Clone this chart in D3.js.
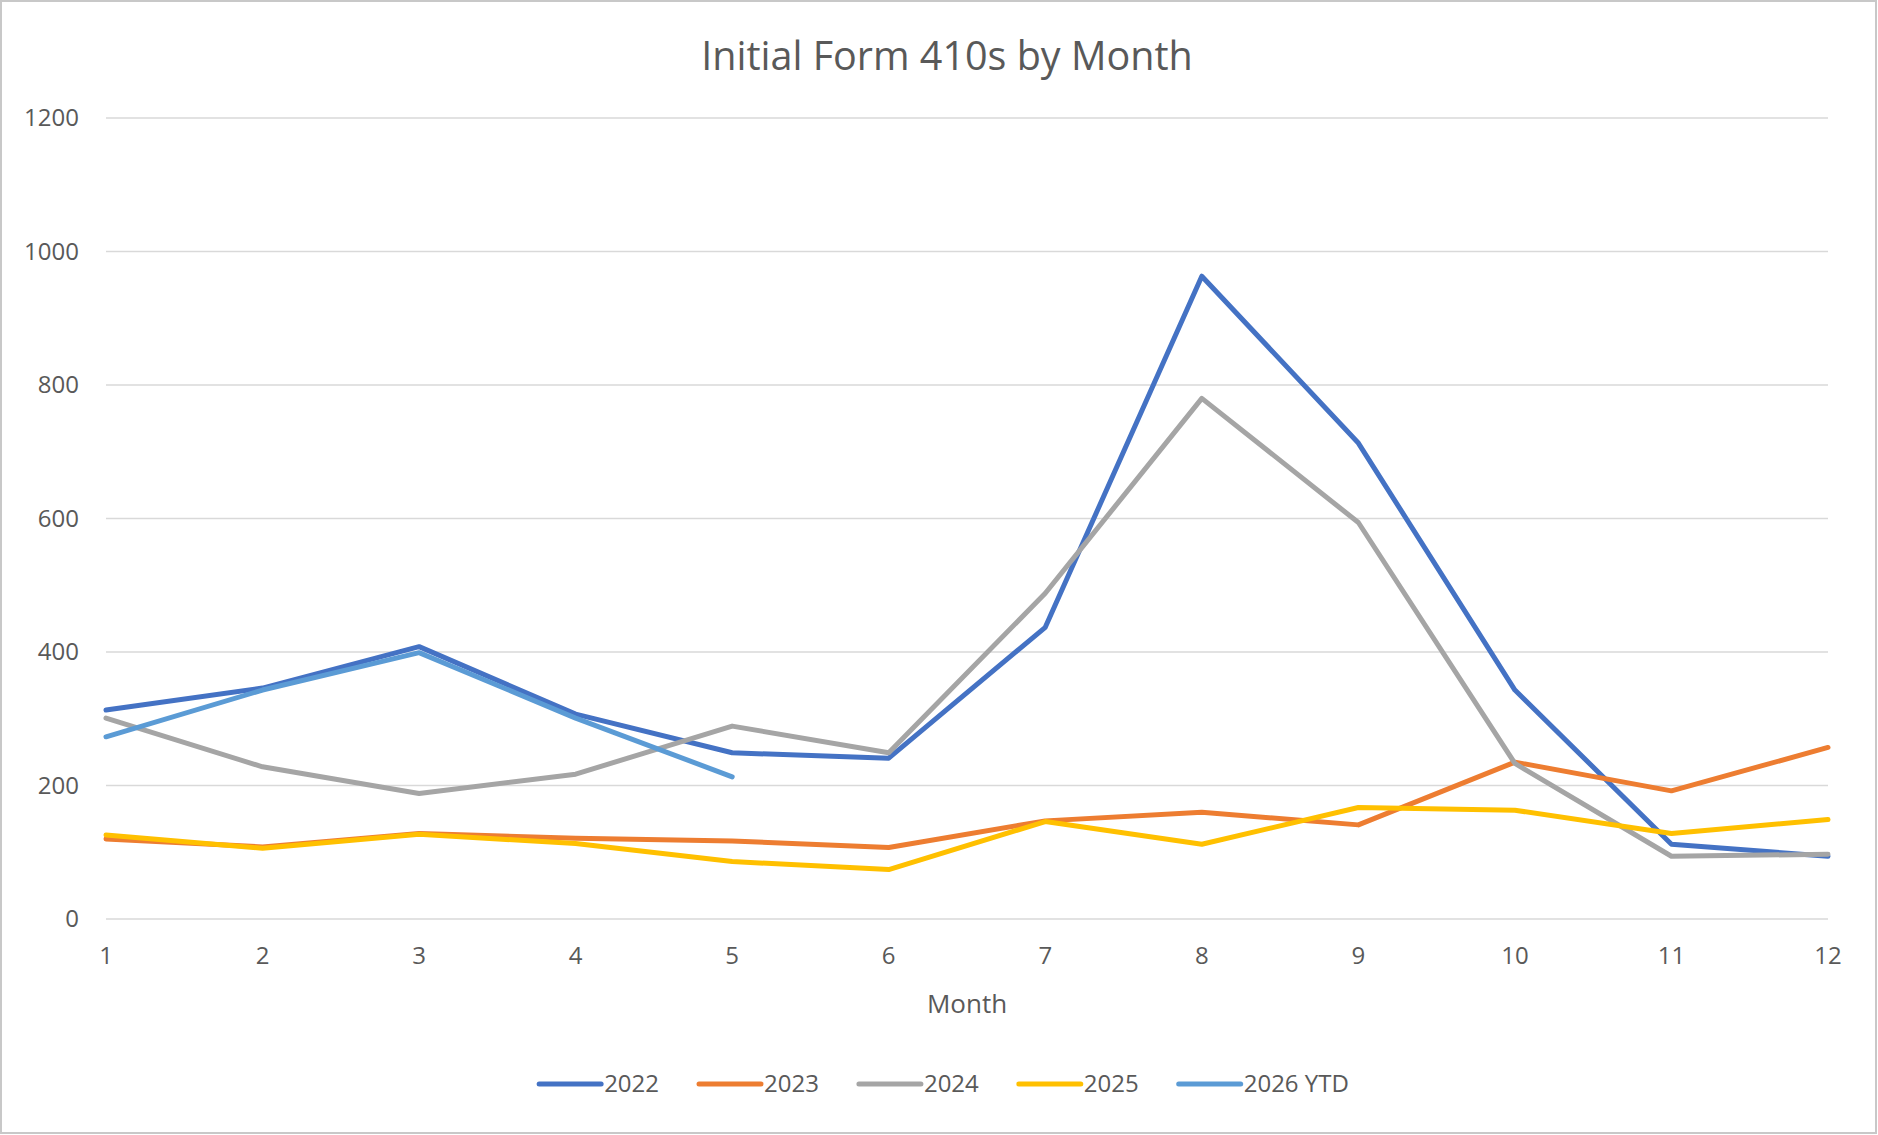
<!DOCTYPE html>
<html>
<head>
<meta charset="utf-8">
<script src="https://cdn.jsdelivr.net/npm/d3@7"></script>
<style>
  body { margin: 0; background: #fff; }
  svg text { font-family: "Open Sans", sans-serif; fill: #595959; }
</style>
</head>
<body>
<script>
var w = 1878;
var h = 1135;

// data
var months = [1, 2, 3, 4, 5, 6, 7, 8, 9, 10, 11, 12];
var s2022 = [313, 346, 408, 307, 249, 241, 437, 963, 713, 343, 112, 94];
var s2023 = [120, 108, 128, 121, 117, 107, 147, 160, 141, 235, 192, 257];
var s2024 = [301, 228, 188, 217, 289, 249, 488, 780, 594, 233, 94, 97];
var s2025 = [126, 106, 127, 113, 86, 74, 146, 112, 167, 163, 128, 149];
var s2026 = [273, 343, 399, 301, 213];
var seriesNames = ["2022", "2023", "2024", "2025", "2026 YTD"];
var seriesColors = ["#4472C4", "#ED7D31", "#A5A5A5", "#FFC000", "#5B9BD5"];
var yTicks = [0, 200, 400, 600, 800, 1000, 1200];

var allSeries = [s2022, s2023, s2024, s2025, s2026];

var svg = d3.select("body").append("svg")
    .attr("width", w)
    .attr("height", h);

// chart frame
svg.append("rect")
    .attr("x", 1).attr("y", 1)
    .attr("width", w - 3).attr("height", h - 3)
    .attr("fill", "#fff")
    .attr("stroke", "#c8c8c8")
    .attr("stroke-width", 2);

var x = d3.scaleLinear().domain([1, 12]).range([106, 1828]);
var y = d3.scaleLinear().domain([0, 1200]).range([919, 118]);

// title
svg.append("text")
    .attr("x", 947).attr("y", 70)
    .attr("text-anchor", "middle")
    .attr("font-size", 39.5)
    .text("Initial Form 410s by Month");

// gridlines
svg.append("g").selectAll("line")
    .data(yTicks)
    .join("line")
    .attr("x1", x(1)).attr("x2", x(12))
    .attr("y1", d => y(d)).attr("y2", d => y(d))
    .attr("stroke", "#D9D9D9")
    .attr("stroke-width", 1.5);

// y labels
svg.append("g").selectAll("text")
    .data(yTicks)
    .join("text")
    .attr("x", 79)
    .attr("y", d => y(d))
    .attr("dy", "0.35em")
    .attr("text-anchor", "end")
    .attr("font-size", 24)
    .text(d => d);

// x labels
svg.append("g").selectAll("text")
    .data(months)
    .join("text")
    .attr("x", d => x(d))
    .attr("y", 956)
    .attr("dy", "0.35em")
    .attr("text-anchor", "middle")
    .attr("font-size", 24)
    .text(d => d);

// axis title
svg.append("text")
    .attr("x", (x(1) + x(12)) / 2).attr("y", 1004)
    .attr("dy", "0.35em")
    .attr("text-anchor", "middle")
    .attr("font-size", 26)
    .text("Month");

var line = d3.line()
    .x((d, i) => x(months[i]))
    .y(d => y(d));

for (var s = 0; s < allSeries.length; s++) {
    svg.append("path")
        .datum(allSeries[s])
        .attr("d", line)
        .attr("fill", "none")
        .attr("stroke", seriesColors[s])
        .attr("stroke-width", 5)
        .attr("stroke-linejoin", "round")
        .attr("stroke-linecap", "round");
}

// legend
var legend = svg.append("g");
var lx = 0;
var ly = 1084;
var gap = 38;
for (var k = 0; k < seriesNames.length; k++) {
    var item = legend.append("g").attr("transform", "translate(" + lx + ",0)");
    item.append("line")
        .attr("x1", 2).attr("x2", 64)
        .attr("y1", ly).attr("y2", ly)
        .attr("stroke", seriesColors[k])
        .attr("stroke-width", 5)
        .attr("stroke-linecap", "round");
    var t = item.append("text")
        .attr("x", 67).attr("y", ly)
        .attr("dy", "0.35em")
        .attr("font-size", 24)
        .text(seriesNames[k]);
    lx += 67 + t.node().getComputedTextLength() + gap;
}
var legendWidth = lx - gap;
legend.attr("transform", "translate(" + (943 - legendWidth / 2) + ",0)");
</script>
</body>
</html>
